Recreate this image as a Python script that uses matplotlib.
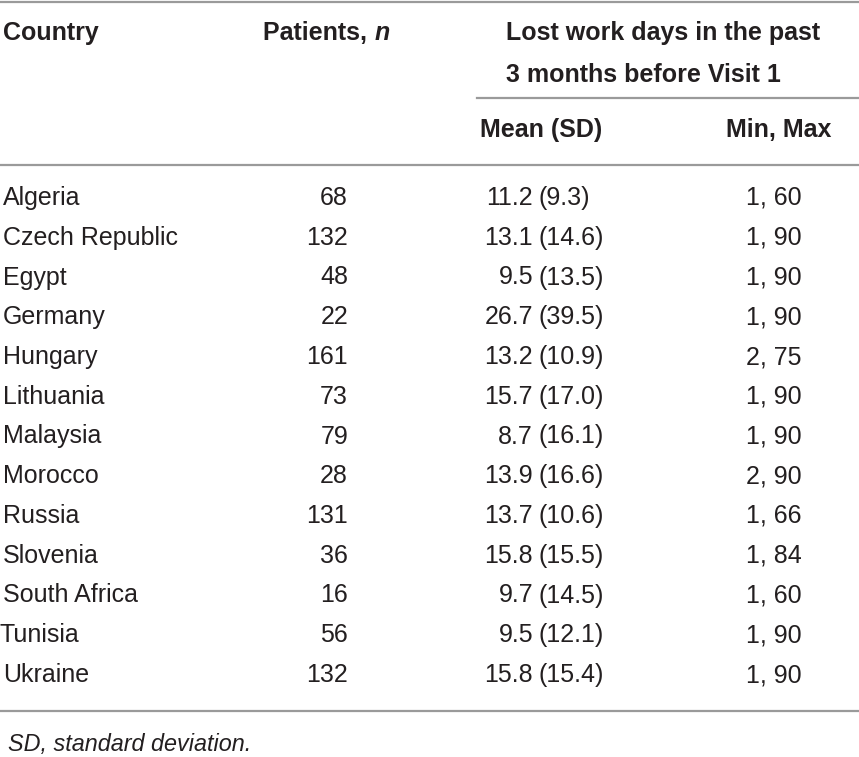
import matplotlib
matplotlib.use("Agg")
import matplotlib.pyplot as plt
from matplotlib import font_manager

countries = ["Algeria", "Czech Republic", "Egypt", "Germany", "Hungary", "Lithuania",
             "Malaysia", "Morocco", "Russia", "Slovenia", "South Africa", "Tunisia", "Ukraine"]
patients = [68, 132, 48, 22, 161, 73, 79, 28, 131, 36, 16, 56, 132]
mean_days = [11.2, 13.1, 9.5, 26.7, 13.2, 15.7, 8.7, 13.9, 13.7, 15.8, 9.7, 9.5, 15.8]
sd_days = [9.3, 14.6, 13.5, 39.5, 10.9, 17.0, 16.1, 16.6, 10.6, 15.5, 14.5, 12.1, 15.4]
min_days = [1, 1, 1, 1, 2, 1, 1, 2, 1, 1, 1, 1, 1]
max_days = [60, 90, 90, 90, 75, 90, 90, 90, 66, 84, 60, 90, 90]
footnote = "SD, standard deviation."

names = {f.name for f in font_manager.fontManager.ttflist}
fam = "Liberation Sans Narrow" if "Liberation Sans Narrow" in names else "Liberation Sans"
plt.rcParams['font.family'] = [fam, 'DejaVu Sans']

W, H = 859, 757
fig = plt.figure(figsize=(W / 100, H / 100), dpi=100)
ax = fig.add_axes([0, 0, 1, 1])
ax.set_xlim(0, W)
ax.set_ylim(H, 0)
ax.axis('off')

tc = "#231f20"
rc = "#9a9a9a"
fs = 18
hfs = 18

# rules
ax.plot([0, W], [1.5, 1.5], color=rc, lw=1.6)
ax.plot([477, W], [97.5, 97.5], color=rc, lw=1.6)
ax.plot([0, W], [165, 165], color=rc, lw=1.6)
ax.plot([0, W], [711, 711], color=rc, lw=1.6)

# header
hkw = dict(fontsize=hfs, fontweight='bold', color=tc, va='center')
ax.text(3, 33, "Country", ha='left', **hkw)
t = ax.text(263, 33, "Patients, ", ha='left', **hkw)
fig.canvas.draw()
bb = t.get_window_extent(renderer=fig.canvas.get_renderer())
ax.text(bb.x1 + 1, 33, "n", ha='left', style='italic', **hkw)
ax.text(506, 33, "Lost work days in the past", ha='left', **hkw)
ax.text(506, 75, "3 months before Visit 1", ha='left', **hkw)
ax.text(541, 130, "Mean (SD)", ha='center', **hkw)
ax.text(831, 130, "Min, Max", ha='right', **hkw)

# rows
y0, dy = 198, 39.75
kw = dict(fontsize=fs, color=tc, va='center')
for i, c in enumerate(countries):
    y = y0 + i * dy
    ax.text(0 if c == "Tunisia" else 3, y, c, ha='left', **kw)
    ax.text(348, y, str(patients[i]), ha='right', **kw)
    ax.text(533, y, f"{mean_days[i]:.1f}", ha='right', **kw)
    ax.text(538, y, f"({sd_days[i]:.1f})", ha='left', **kw)
    ax.text(802, y, f"{min_days[i]}, {max_days[i]}", ha='right', **kw)

ax.text(8, 745, footnote, ha='left', fontsize=16.8, style='italic', color=tc, va='center')

fig.savefig("out.png", dpi=100)
